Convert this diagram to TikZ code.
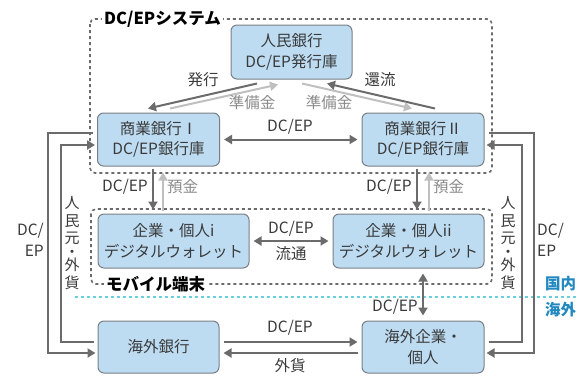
\documentclass[tikz,border=0pt]{standalone}
\usepackage{fontspec}
\setmainfont{Noto Sans CJK JP}
\usepackage{xcolor}
\usetikzlibrary{arrows.meta, calc}

\definecolor{boxblue}{HTML}{BDDCF2}
\definecolor{boxline}{HTML}{7A7F85}
\definecolor{darkarrow}{HTML}{6B6B6B}
\definecolor{lightarrow}{HTML}{BFBFBF}
\definecolor{textgray}{HTML}{3A3A3A}
\definecolor{labelgray}{HTML}{8A8A8A}
\definecolor{borderblue}{HTML}{6CCDDE}
\definecolor{areablue}{HTML}{2288C0}

\begin{document}
\begin{tikzpicture}[x=1pt, y=-1pt,
	font=\fontsize{15.5}{20.5}\selectfont, text=textgray,
	unit/.style={draw=boxline, fill=boxblue, line width=1pt, rounded corners=6pt, align=center, inner sep=0pt},
	flow/.style={darkarrow, line width=2pt, -{Triangle[length=8pt, width=9pt]}},
	twoway/.style={darkarrow, line width=2pt, {Triangle[length=8pt, width=9pt]}-{Triangle[length=8pt, width=9pt]}},
	reserve/.style={lightarrow, line width=2pt, -{Triangle[length=8pt, width=9pt]}},
	zone/.style={draw=darkarrow, line width=1.6pt, dash pattern=on 3pt off 3pt, rounded corners=5pt},
	note/.style={inner sep=1pt},
	title/.style={fill=white, inner sep=2pt, font=\fontsize{16.5}{20}\selectfont\bfseries, text=black},
]
	\useasboundingbox (0, 0) rectangle (579, 376);

	% zones
	\draw[zone] (90, 19) rectangle (492, 173);  % DC/EP system
	\draw[zone] (91, 209) rectangle (492, 284);  % mobile
	\draw[borderblue, line width=1.6pt, dash pattern=on 3pt off 3pt] (75, 297) -- (579, 297);  % border

	\node[title, anchor=west] (sys) at (102, 19) {DC/EPシステム};
	\node[title, anchor=west] (mob) at (104, 284) {モバイル端末};
	\node[note, anchor=west, text=areablue, font=\fontsize{15.5}{20}\selectfont\bfseries] (home) at (544, 284) {国内};
	\node[note, anchor=west, text=areablue, font=\fontsize{15.5}{20}\selectfont\bfseries] (abroad) at (544, 310) {海外};

	% boxes
	\node[unit, minimum width=121pt, minimum height=54pt] (pboc) at (291.5, 52) {人民銀行\\DC/EP発行庫};
	\node[unit, minimum width=122pt, minimum height=53pt] (bankA) at (158.5, 139.5) {商業銀行Ⅰ\\DC/EP銀行庫};
	\node[unit, minimum width=122pt, minimum height=53pt] (bankB) at (423, 139.5) {商業銀行Ⅱ\\DC/EP銀行庫};
	\node[unit, minimum width=151pt, minimum height=54pt] (walletA) at (173.5, 241) {企業・個人i\\デジタルウォレット};
	\node[unit, minimum width=151pt, minimum height=54pt] (walletB) at (408.5, 241) {企業・個人ii\\デジタルウォレット};
	\node[unit, minimum width=121pt, minimum height=52pt] (obank) at (158.5, 347) {海外銀行};
	\node[unit, minimum width=122pt, minimum height=52pt] (ocorp) at (423, 347) {海外企業・\\個人};

	% issue and return
	\draw[flow] ($(pboc.south)+(-34.5, 4)$) -- ($(bankA.north)+(-10.5, -4)$);
	\draw[reserve] ($(bankA.north)+(11.5, -4)$) -- ($(pboc.south)+(-13.5, 5)$);
	\draw[flow] ($(bankB.north)+(12, -4)$) -- ($(pboc.south)+(35.5, 4)$);
	\draw[reserve] ($(pboc.south)+(10.5, 4)$) -- ($(bankB.north)+(-11, -4)$);
	\node[note] (issue) at (203, 80) {発行};
	\node[note, text=labelgray] (resA) at (252, 103) {準備金};
	\node[note, text=labelgray] (resB) at (329, 103) {準備金};
	\node[note] (back) at (380, 80) {還流};

	% between banks
	\draw[twoway] ($(bankA.east)+(4, 0)$) -- ($(bankB.west)+(-4, 0)$);
	\node[note] (dcBank) at (290, 127) {DC/EP};

	% banks to wallets
	\draw[flow, shorten <=2pt, shorten >=4pt] ($(bankA.south)+(-5.5, 0)$) -- ($(bankA.south |- walletA.north)+(-5.5, 0)$);
	\draw[reserve, shorten <=3pt, shorten >=6pt] ($(bankA.south |- walletA.north)+(4.5, 0)$) -- ($(bankA.south)+(4.5, 0)$);
	\draw[flow, shorten <=2pt, shorten >=4pt] ($(bankB.south)+(-6, 0)$) -- ($(bankB.south |- walletB.north)+(-6, 0)$);
	\draw[reserve, shorten <=3pt, shorten >=6pt] ($(bankB.south |- walletB.north)+(6, 0)$) -- ($(bankB.south)+(6, 0)$);
	\node[note, anchor=east] (dcA) at (149, 187) {DC/EP};
	\node[note, anchor=west, text=labelgray] (depA) at (166, 187) {預金};
	\node[note, anchor=east] (dcB) at (413, 187) {DC/EP};
	\node[note, anchor=west, text=labelgray] (depB) at (432, 187) {預金};

	% between wallets
	\draw[twoway] ($(walletA.east)+(4, 0)$) -- ($(walletB.west)+(-4, 0)$);
	\node[note] (dcWal) at (291, 229) {DC/EP};
	\node[note] (circ) at (291, 254) {流通};

	% wallet to overseas
	\draw[twoway] ($(ocorp.north |- walletB.south)+(0, 5)$) -- ($(ocorp.north)+(0, -5)$);
	\node[note, anchor=east] (dcCross) at (419, 307) {DC/EP};

	% overseas
	\draw[flow] ($(obank.east)+(4, -5)$) -- ($(ocorp.west)+(-4, -5)$);
	\draw[flow] ($(ocorp.west)+(-4, 6)$) -- ($(obank.east)+(4, 6)$);
	\node[note] (dcOver) at (290, 328) {DC/EP};
	\node[note] (fx) at (290, 366) {外貨};

	% outer loops
	\draw[flow] ($(bankA.west)+(-4, -6.5)$) -- ++(-45, 0) |- ($(obank.west)+(-2, 6)$);
	\draw[flow] ($(obank.west)+(-4, -5)$) -- ++(-33, 0) |- ($(bankA.west)+(-2, 5.5)$);
	\draw[flow] ($(bankB.east)+(4, -6.5)$) -- ++(45, 0) |- ($(ocorp.east)+(2, 6)$);
	\draw[flow] ($(ocorp.east)+(4, -5)$) -- ++(33, 0) |- ($(bankB.east)+(2, 5.5)$);
	\node[note, anchor=east, align=right] (dcLeft) at (45, 240) {DC/\\EP};
	\node[note, anchor=west, align=left] (dcRight) at (536, 240) {DC/\\EP};
	\node[note, align=center, font=\fontsize{15}{17.5}\selectfont] (cnyA) at (72, 243) {人\\民\\元\\[-4pt]・\\[-4pt]外\\貨};
	\node[note, align=center, font=\fontsize{15}{17.5}\selectfont] (cnyB) at (508, 243) {人\\民\\元\\[-4pt]・\\[-4pt]外\\貨};

\end{tikzpicture}
\end{document}
